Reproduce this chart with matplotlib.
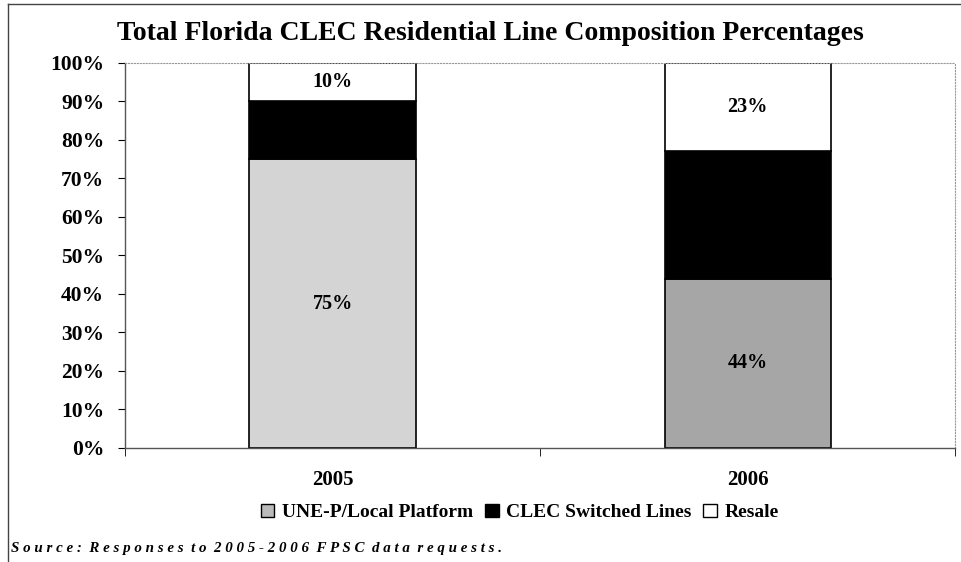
import numpy as np
import matplotlib.pyplot as plt
from matplotlib.patches import Patch
from matplotlib.lines import Line2D

years = ['2005', '2006']
une_p = [75, 44]
clec_switched = [15, 33]
resale = [10, 23]
une_p_labels = ['75%', '44%']
resale_labels = ['10%', '23%']

plt.rcParams['font.family'] = ['Liberation Serif', 'DejaVu Serif']
plt.rcParams['font.weight'] = 'bold'

fig = plt.figure(figsize=(9.61, 5.62), dpi=100)
ax = fig.add_axes([0.130, 0.203, 0.864, 0.685])

x = np.arange(len(years))
w = 0.4
gray_fill = ['#d4d4d4', '#a6a6a6']  # scan shows the 2006 stipple darker

ax.bar(x, une_p, w, color=gray_fill, edgecolor='black', linewidth=1.2)
ax.bar(x, clec_switched, w, bottom=une_p, color='black', edgecolor='black', linewidth=1.2)
bottom2 = np.array(une_p) + np.array(clec_switched)
ax.bar(x, resale, w, bottom=bottom2, color='white', edgecolor='black', linewidth=1.2)

# data labels (middle series not labelled in original)
for i in range(len(years)):
    ax.text(x[i], une_p[i] / 2, une_p_labels[i], ha='center', va='center', fontsize=14.5, fontweight='bold')
    ax.text(x[i], bottom2[i] + resale[i] / 2, resale_labels[i], ha='center', va='center', fontsize=14.5, fontweight='bold')

ax.set_xlim(-0.5, 1.5)
ax.set_ylim(0, 100)
ax.set_yticks(np.arange(0, 101, 10))
ax.set_yticklabels([f'{v}%' for v in range(0, 101, 10)], fontsize=15.5, fontweight='bold')
ax.set_xticks(x)
ax.set_xticklabels(years, fontsize=15, fontweight='bold')
ax.tick_params(axis='x', length=0, pad=16)
ax.set_xticks([-0.5, 0.5, 1.5], minor=True)
ax.tick_params(axis='x', which='minor', length=6, direction='out')
ax.tick_params(axis='y', length=5, direction='out', pad=10)

for s in ['top', 'right']:
    ax.spines[s].set_color('#999999')
    ax.spines[s].set_linestyle(':')
    ax.spines[s].set_linewidth(0.8)
for s in ['left', 'bottom']:
    ax.spines[s].set_color('#555555')
    ax.spines[s].set_linewidth(1.0)

fig.text(0.51, 0.940, 'Total Florida CLEC Residential Line Composition Percentages',
         ha='center', va='center', fontsize=20, fontweight='bold')

handles = [Patch(facecolor='#bbbbbb', edgecolor='black'),
           Patch(facecolor='black', edgecolor='black'),
           Patch(facecolor='white', edgecolor='black')]
names = ['UNE-P/Local Platform', 'CLEC Switched Lines', 'Resale']
fig.legend(handles, names, loc='center', bbox_to_anchor=(0.541, 0.088), ncol=3, frameon=False,
           fontsize=14, handlelength=0.7, handleheight=0.7, handletextpad=0.4, columnspacing=0.6)

fig.text(0.011, 0.024, 'S o u r c e :  R e s p o n s e s  t o  2 0 0 5 - 2 0 0 6  F P S C  d a t a  r e q u e s t s .',
         ha='left', va='center', fontsize=10.8, fontweight='bold', style='italic')

# page border from the scan (left and top edges)
fig.add_artist(Line2D([0.008, 0.008], [0.0, 0.993], transform=fig.transFigure, color='#444444', linewidth=1))
fig.add_artist(Line2D([0.008, 1.0], [0.993, 0.993], transform=fig.transFigure, color='#444444', linewidth=1))

fig.savefig('out.png', dpi=100)
